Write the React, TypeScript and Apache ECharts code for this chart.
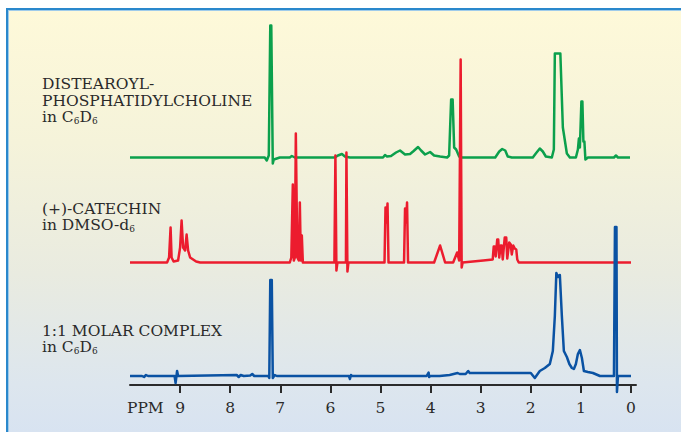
import React, { useEffect, useRef } from "react";
import * as echarts from "echarts";

// x: chemical shift (ppm), y: signal height above each trace's baseline
const ppmTicks = [0, 1, 2, 3, 4, 5, 6, 7, 8, 9];

const dspcSpectrum: [number, number][] = [
  [10.0, 0], [7.31, 0], [7.27, -3], [7.23, 2], [7.2, 132], [7.18, 132], [7.15, -6], [7.13, -2], [7.01, 0],
  [6.81, 0], [6.77, 1.5], [6.71, 0],
  [5.91, 0], [5.85, 2], [5.77, 3.5], [5.71, 1], [5.61, 0],
  [4.95, 0], [4.91, 2.5], [4.87, 1], [4.79, 1.5], [4.69, 5], [4.61, 7], [4.51, 3], [4.41, 3.5], [4.35, 6],
  [4.25, 10.5], [4.19, 7], [4.11, 3], [4.01, 5.5], [3.93, 2], [3.81, 1], [3.67, 0],
  [3.63, 2], [3.59, 58], [3.56, 58], [3.53, 10], [3.49, 8], [3.43, 1], [3.37, 0],
  [2.71, 0], [2.63, 6], [2.57, 8.5], [2.51, 7], [2.46, 1], [2.38, 0],
  [1.96, 0], [1.9, 4], [1.82, 9], [1.76, 6], [1.7, 1], [1.58, 0],
  [1.54, 8], [1.52, 104], [1.41, 104], [1.36, 30], [1.28, 4], [1.22, 0],
  [1.1, 0], [1.06, 8], [1.04, 19], [1.02, 10], [0.99, 56], [0.97, 56], [0.95, 16], [0.93, 16], [0.91, -2], [0.86, 0],
  [0.34, 0], [0.3, 2], [0.26, 0], [0.02, 0],
];

const catechinSpectrum: [number, number][] = [
  [10.0, 0], [9.26, 0], [9.22, 5], [9.19, 35], [9.17, 5], [9.13, 1], [9.04, 2], [9.0, 15], [8.97, 42], [8.94, 15],
  [8.9, 12], [8.87, 28], [8.84, 12], [8.8, 5], [8.68, 1], [8.6, 0],
  [6.81, 0], [6.78, 5], [6.75, 78], [6.73, 2], [6.71, 5], [6.69, 129], [6.66, 5], [6.63, 2], [6.61, 60], [6.59, 2],
  [6.57, 27], [6.55, 0],
  [5.92, 0], [5.9, 107], [5.88, -8], [5.86, 0],
  [5.69, 0], [5.68, 110], [5.66, -9], [5.64, 0],
  [4.92, 0], [4.9, 55], [4.88, 40], [4.86, 59], [4.84, 0],
  [4.53, 0], [4.51, 54], [4.49, 40], [4.47, 60], [4.45, 0],
  [3.93, 0], [3.81, 17], [3.71, 0],
  [3.55, 0], [3.47, 10], [3.43, 2], [3.4, 203], [3.38, -5], [3.36, 0],
  [2.95, 2], [2.76, 3], [2.74, 16], [2.72, 16], [2.7, 6], [2.67, 23], [2.65, 23], [2.63, 5], [2.6, 17], [2.58, 17],
  [2.56, 3], [2.52, 25], [2.49, 25], [2.47, 4], [2.43, 20], [2.4, 18], [2.38, 8], [2.35, 17], [2.32, 14], [2.29, 13],
  [2.27, 3], [2.24, 0], [0.0, 0],
];

const complexSpectrum: [number, number][] = [
  [10.0, 0], [9.76, 0], [9.72, -1], [9.68, 1], [9.64, 0],
  [9.11, 0], [9.09, -7], [9.06, 5], [9.04, 0],
  [7.87, 1], [7.83, -1], [7.79, 1], [7.73, 0],
  [7.6, 0.5], [7.56, 2], [7.52, 0],
  [7.24, 0], [7.22, -2], [7.2, 96], [7.17, 96], [7.15, -2], [7.11, 1], [7.07, 0],
  [5.63, 0], [5.61, -3], [5.59, 1], [5.57, 0],
  [4.08, 0], [4.04, 3.5], [4.03, -1], [4.01, 0],
  [3.82, 0], [3.62, 1], [3.46, 3], [3.42, 2], [3.3, 2], [3.25, 5], [3.22, 3], [3.0, 3], [2.0, 3], [1.92, -2],
  [1.82, 5], [1.72, 8], [1.62, 12], [1.56, 25], [1.52, 60], [1.49, 103], [1.46, 99], [1.42, 101], [1.38, 60],
  [1.34, 25], [1.28, 19], [1.23, 12], [1.18, 8], [1.14, 7], [1.1, 12], [1.06, 22], [1.02, 26], [0.98, 18],
  [0.94, 5], [0.86, 4], [0.76, 3], [0.62, 0],
  [0.34, 0], [0.32, 149], [0.29, 149], [0.28, -16], [0.26, 0], [0.0, 0],
];

const dspcLabel = ["DISTEAROYL-", "PHOSPHATIDYLCHOLINE"];
const catechinLabel = ["(+)-CATECHIN"];
const complexLabel = ["1:1 MOLAR COMPLEX"];

// vertical stacking of the three traces
const OFFSET_DSPC = 227.5;
const OFFSET_CATECHIN = 122.5;
const OFFSET_COMPLEX = 9;

const FONT = "'DejaVu Serif', 'Liberation Serif', serif";
const FS = 15.5;
const TEXT_COLOR = "#2a2a2a";

function plainText(text: string, x: number, y: number) {
  return {
    type: "text",
    x,
    y,
    silent: true,
    style: {
      text,
      fill: TEXT_COLOR,
      fontFamily: FONT,
      fontSize: FS,
      verticalAlign: "middle",
      align: "left",
    },
  };
}

function richText(text: string, x: number, y: number) {
  return {
    type: "text",
    x,
    y,
    silent: true,
    style: {
      text,
      fill: TEXT_COLOR,
      fontFamily: FONT,
      fontSize: FS,
      verticalAlign: "middle",
      align: "left",
      rich: {
        n: { fontFamily: FONT, fontSize: FS, lineHeight: 16, verticalAlign: "bottom", color: TEXT_COLOR },
        s: { fontFamily: FONT, fontSize: 9, lineHeight: 5, verticalAlign: "bottom", color: TEXT_COLOR },
      },
    },
  };
}

export default function App() {
  const ref = useRef<HTMLDivElement>(null);

  useEffect(() => {
    if (!ref.current) return;
    const chart = echarts.init(ref.current, null, { renderer: "svg" });
    const shift = (arr: [number, number][], off: number) => arr.map(([p, h]) => [p, h + off]);

    chart.setOption({
      animation: false,
      backgroundColor: "transparent",
      grid: { left: 130, right: 45, top: 10, bottom: 47 },
      xAxis: {
        type: "value",
        inverse: true,
        min: -0.1,
        max: 10,
        axisLine: { show: true, onZero: false, lineStyle: { color: "#2b2b2b", width: 2 } },
        axisTick: { show: true, customValues: ppmTicks, length: 8, lineStyle: { color: "#2b2b2b", width: 2 } },
        axisLabel: { customValues: ppmTicks, margin: 15, fontFamily: FONT, fontSize: FS, color: TEXT_COLOR },
        splitLine: { show: false },
      },
      yAxis: { type: "value", min: 0, max: 375, show: false },
      series: [
        {
          name: "DSPC",
          type: "line",
          data: shift(dspcSpectrum, OFFSET_DSPC),
          showSymbol: false,
          symbol: "none",
          lineStyle: { color: "#0ba04c", width: 2.5, join: "round" },
          z: 2,
        },
        {
          name: "Catechin",
          type: "line",
          data: shift(catechinSpectrum, OFFSET_CATECHIN),
          showSymbol: false,
          symbol: "none",
          lineStyle: { color: "#ec1c2e", width: 2.5, join: "round" },
          z: 3,
        },
        {
          name: "Complex",
          type: "line",
          data: shift(complexSpectrum, OFFSET_COMPLEX),
          showSymbol: false,
          symbol: "none",
          clip: false,
          lineStyle: { color: "#0a52a3", width: 2.5, join: "round" },
          z: 4,
        },
      ],
      graphic: {
        elements: [
          plainText(dspcLabel[0], 42, 84),
          plainText(dspcLabel[1], 42, 100.5),
          richText("{n|in C}{s|6}{n|D}{s|6}", 42, 117),
          plainText(catechinLabel[0], 42, 208.5),
          richText("{n|in DMSO-d}{s|6}", 42, 225.25),
          plainText(complexLabel[0], 42, 330.5),
          richText("{n|in C}{s|6}{n|D}{s|6}", 42, 347.25),
          plainText("PPM", 127, 407.5),
        ],
      },
    });

    return () => chart.dispose();
  }, []);

  return (
    <div
      style={{
        position: "fixed",
        left: 0,
        top: 0,
        width: 681,
        height: 432,
        background: "#ffffff",
        overflow: "hidden",
      }}
    >
      <div
        style={{
          position: "absolute",
          left: 6,
          top: 8,
          width: 700,
          height: 440,
          borderTop: "2px solid #2a88cc",
          borderLeft: "2px solid #2a88cc",
          boxShadow: "inset 1px 1px 0 #9fcbea",
          background: "linear-gradient(to bottom, #fef9d9 0%, #f5f3da 30%, #e9ebe0 60%, #dde6ee 85%, #d6e2f2 100%)",
        }}
      />
      <div ref={ref} style={{ position: "absolute", left: 0, top: 0, width: 681, height: 432 }} />
    </div>
  );
}
